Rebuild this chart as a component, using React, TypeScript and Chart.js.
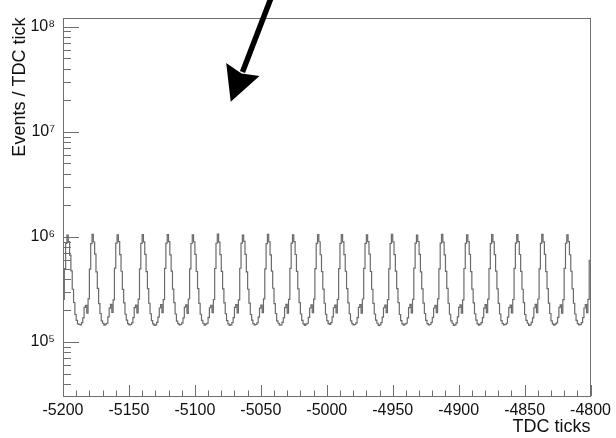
import React, { useEffect, useRef } from "react";
import { Chart, registerables } from "chart.js";

Chart.register(...registerables);

// Histogram: TDC tick bins from -5200 to -4800 (1 tick per bin), counts in thousands of events
const binStart = -5200;
const binEnd = -4800;
const binWidth = 1;

const eventsK: number[] = [
  255, 500, 870,
  1040, 905, 672, 475, 318, 238, 183, 161, 149, 147, 146, 153, 170, 214, 224, 188, 258, 495, 865,
  1060, 895, 686, 465, 324, 232, 187, 159, 151, 145, 148, 151, 174, 210, 228, 192, 252, 505, 875,
  1045, 902, 678, 472, 317, 236, 184, 162, 150, 146, 147, 152, 171, 213, 225, 189, 256, 498, 868,
  1055, 898, 684, 468, 323, 234, 186, 160, 149, 144, 146, 154, 173, 211, 227, 191, 253, 502, 872,
  1050, 904, 676, 473, 319, 237, 185, 158, 150, 146, 147, 152, 170, 215, 226, 187, 257, 497, 866,
  1048, 899, 682, 469, 322, 233, 184, 161, 151, 145, 148, 151, 172, 212, 224, 190, 254, 501, 871,
  1062, 893, 679, 471, 320, 236, 186, 160, 149, 144, 146, 153, 171, 214, 227, 189, 252, 504, 874,
  1044, 906, 683, 466, 318, 235, 183, 162, 150, 146, 147, 152, 173, 210, 225, 191, 258, 496, 864,
  1058, 897, 675, 474, 325, 232, 187, 159, 151, 145, 146, 154, 170, 213, 228, 188, 255, 503, 873,
  1046, 903, 681, 470, 321, 237, 185, 161, 149, 144, 148, 151, 172, 211, 226, 190, 256, 499, 869,
  1054, 900, 677, 467, 319, 234, 184, 160, 150, 147, 153, 174, 212, 225, 189, 254, 500, 867,
  1051, 898, 680, 472, 323, 236, 186, 159, 150, 146, 147, 152, 171, 214, 227, 188, 257, 502, 870,
  1049, 902, 685, 469, 318, 233, 185, 162, 151, 144, 146, 153, 173, 212, 225, 191, 253, 498, 866,
  1057, 896, 678, 473, 322, 237, 183, 160, 149, 145, 148, 151, 170, 213, 228, 189, 255, 505, 872,
  1043, 905, 682, 466, 320, 235, 187, 161, 150, 146, 147, 154, 172, 211, 224, 190, 258, 497, 874,
  1061, 894, 676, 471, 324, 234, 184, 159, 151, 144, 146, 152, 174, 214, 226, 188, 252, 501, 868,
  1047, 901, 683, 468, 319, 236, 186, 162, 149, 145, 148, 153, 171, 210, 227, 191, 256, 499, 865,
  1053, 899, 679, 474, 321, 233, 185, 160, 150, 146, 147, 151, 173, 213, 225, 189, 254, 503, 873,
  1050, 903, 681, 470, 318, 237, 183, 161, 151, 144, 146, 154, 170, 212, 228, 190, 257, 496, 869,
  1056, 897, 684, 467, 323, 235, 187, 159, 149, 145, 148, 152, 172, 214, 226, 188, 253, 502, 871,
  1045, 904, 677, 472, 320, 234, 185, 161, 150, 146, 147, 153, 171, 211, 227, 190, 255, 600,
];

const xMajorStep = 50;
const xMinorStep = 10;
const yMin = 3.07e4;
const yMax = 1.22e8;
const yDecades = [1e5, 1e6, 1e7, 1e8];
const yDecadeLabels = ["10\u2075", "10\u2076", "10\u2077", "10\u2078"];
const xTitle = "TDC ticks";
const yTitle = "Events / TDC tick";

const FONT = "'Liberation Sans', Arial, Helvetica, sans-serif";

const framePlugin = {
  id: "rootFrame",
  afterDraw(chart: any) {
    const { ctx, chartArea, scales } = chart;
    const { left, right, top, bottom } = chartArea;
    const xs = scales.x;
    const ys = scales.y;
    ctx.save();
    ctx.strokeStyle = "#6f6f6f";
    ctx.lineWidth = 1;
    ctx.strokeRect(Math.round(left) + 0.5, Math.round(top) + 0.5, Math.round(right - left) - 1, Math.round(bottom - top));
    // x ticks
    ctx.beginPath();
    for (let v = binStart; v <= binEnd + 0.001; v += xMinorStep) {
      const px = Math.round(xs.getPixelForValue(v)) + 0.5;
      const major = Math.abs((v - binStart) % xMajorStep) < 1e-6;
      const len = major ? 11 : 5.5;
      ctx.moveTo(px, bottom);
      ctx.lineTo(px, bottom - len);
    }
    // y ticks
    for (let d = 1e4; d <= 1e9; d *= 10) {
      for (let m = 1; m <= 9; m++) {
        const v = d * m;
        if (v < yMin || v > yMax) continue;
        const py = Math.round(ys.getPixelForValue(v)) + 0.5;
        const len = m === 1 ? 16 : 8;
        ctx.moveTo(left, py);
        ctx.lineTo(left + len, py);
      }
    }
    ctx.stroke();

    // annotation arrow
    ctx.strokeStyle = "#000";
    ctx.fillStyle = "#000";
    ctx.lineWidth = 5.5;
    ctx.lineCap = "butt";
    ctx.beginPath();
    ctx.moveTo(271, -2);
    ctx.lineTo(242.5, 72);
    ctx.stroke();
    ctx.beginPath();
    ctx.moveTo(230.7, 101.7);
    ctx.lineTo(226.2, 63);
    ctx.lineTo(241.5, 73.5);
    ctx.lineTo(259.5, 76);
    ctx.closePath();
    ctx.fill();
    ctx.restore();
  },
};

export default function App() {
  const ref = useRef<HTMLCanvasElement | null>(null);
  useEffect(() => {
    const canvas = ref.current;
    if (!canvas) return;
    const points = eventsK.map((v, i) => ({ x: binStart + i * binWidth, y: v * 1000 }));
    points.push({ x: binEnd, y: eventsK[eventsK.length - 1] * 1000 });
    const chart = new Chart(canvas, {
      type: "line",
      data: {
        datasets: [
          {
            data: points,
            stepped: true,
            borderColor: "#6a6a6a",
            borderWidth: 1.2,
            pointRadius: 0,
            fill: false,
          },
        ],
      },
      options: {
        animation: false,
        responsive: false,
        maintainAspectRatio: false,
        layout: { padding: { top: 15, right: 23, left: 0, bottom: 0 } },
        plugins: { legend: { display: false }, tooltip: { enabled: false } },
        scales: {
          x: {
            type: "linear",
            min: binStart,
            max: binEnd,
            afterBuildTicks: (s: any) => {
              const t = [];
              for (let v = binStart; v <= binEnd; v += xMajorStep) t.push({ value: v });
              s.ticks = t;
            },
            ticks: {
              autoSkip: false,
              maxRotation: 0,
              padding: 5,
              color: "#111",
              font: { family: FONT, size: 16 },
              callback: (v: any) => String(v),
            },
            grid: { display: false, drawTicks: false },
            border: { display: false },
            title: {
              display: true,
              text: xTitle,
              align: "end",
              color: "#111",
              font: { family: FONT, size: 18 },
              padding: { top: 0, bottom: 0 },
            },
            afterFit: (s: any) => {
              s.height = 42;
            },
          },
          y: {
            type: "logarithmic",
            min: yMin,
            max: yMax,
            afterBuildTicks: (s: any) => {
              s.ticks = yDecades.map((v) => ({ value: v }));
            },
            ticks: {
              autoSkip: false,
              padding: 8,
              color: "#111",
              font: { family: FONT, size: 16 },
              callback: (v: any) => {
                const i = yDecades.findIndex((d) => Math.abs(d - v) / d < 1e-6);
                return i >= 0 ? yDecadeLabels[i] : "";
              },
            },
            grid: { display: false, drawTicks: false },
            border: { display: false },
            title: {
              display: true,
              text: yTitle,
              align: "end",
              color: "#111",
              font: { family: FONT, size: 18 },
              padding: { top: 9, bottom: 0 },
            },
            afterFit: (s: any) => {
              s.width = 63;
            },
          },
        },
      },
      plugins: [framePlugin],
    });
    return () => chart.destroy();
  }, []);
  return (
    <div style={{ position: "fixed", left: 0, top: 0, width: 616, height: 438, background: "#fff" }}>
      <canvas ref={ref} width={616} height={438} style={{ display: "block", width: 616, height: 438 }} />
    </div>
  );
}
